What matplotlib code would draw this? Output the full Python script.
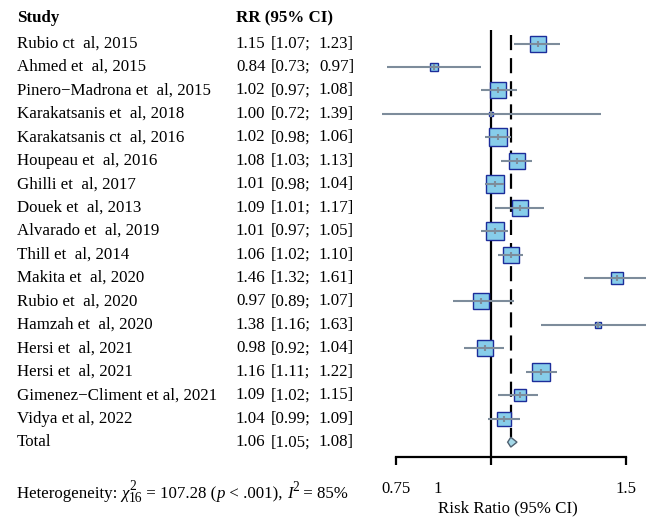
import numpy as np
import matplotlib
matplotlib.use("Agg")
import matplotlib.pyplot as plt
from matplotlib.transforms import ScaledTranslation

plt.rcParams["font.family"] = ["Liberation Serif", "DejaVu Serif"]
plt.rcParams["mathtext.fontset"] = "stix"

studies = [
    "Rubio ct  al, 2015", "Ahmed et  al, 2015", "Pinero\u2212Madrona et  al, 2015",
    "Karakatsanis et  al, 2018", "Karakatsanis ct  al, 2016", "Houpeau et  al, 2016",
    "Ghilli et  al, 2017", "Douek et  al, 2013", "Alvarado et  al, 2019",
    "Thill et  al, 2014", "Makita et  al, 2020", "Rubio et  al, 2020",
    "Hamzah et  al, 2020", "Hersi et  al, 2021", "Hersi et  al, 2021",
    "Gimenez\u2212Climent et al, 2021", "Vidya et al, 2022",
]
rr = [1.15, 0.84, 1.02, 1.00, 1.02, 1.08, 1.01, 1.09, 1.01, 1.06,
      1.46, 0.97, 1.38, 0.98, 1.16, 1.09, 1.04]
lower = [1.07, 0.73, 0.97, 0.72, 0.98, 1.03, 0.98, 1.01, 0.97, 1.02,
         1.32, 0.89, 1.16, 0.92, 1.11, 1.02, 0.99]
upper = [1.23, 0.97, 1.08, 1.39, 1.06, 1.13, 1.04, 1.17, 1.05, 1.10,
         1.61, 1.07, 1.63, 1.04, 1.22, 1.15, 1.09]
weight = [6.5, 3.3, 6.9, 1.6, 7.7, 6.1, 7.7, 6.9, 7.7, 6.9,
          4.9, 6.5, 2.8, 6.9, 7.3, 4.5, 5.7]
total_rr, total_lo, total_hi = 1.06, 1.05, 1.08
q_df, q_stat, q_p, i2 = "16", "107.28", "< .001", "85%"
x_ticks = [0.75, 1, 1.5]
x_tick_labels = ["0.75", "1", "1.5"]

W, H, DPI = 646, 517, 100
fig = plt.figure(figsize=(W / DPI, H / DPI), dpi=DPI)

# row coordinates: one unit per study row
row0_px, row_h = 43.5, 23.45
ylim = ((H - row0_px) / row_h, -row0_px / row_h)
n = len(studies)
rows = np.arange(n)
total_row = n

def px_row(y_px):
    return (y_px - row0_px) / row_h

# text panel spanning the whole figure
tax = fig.add_axes([0, 0, 1, 1])
tax.set_xlim(0, W)
tax.set_ylim(*ylim)
tax.axis("off")

fs = 12.2
x_name, x_est, x_lo, x_hi = 17, 236, 271, 354
tax.text(x_name, px_row(18), "Study", fontsize=fs, fontweight="bold", va="center")
tax.text(x_est, px_row(18), "RR (95% CI)", fontsize=fs, fontweight="bold", va="center")
for i, name in enumerate(studies):
    tax.text(x_name, i, name, fontsize=fs, va="center")
    tax.text(x_est, i, f"{rr[i]:.2f}", fontsize=fs, va="center")
    tax.text(x_lo, i, f"[{lower[i]:.2f};", fontsize=fs, va="center")
    tax.text(x_hi, i, f"{upper[i]:.2f}]", fontsize=fs, va="center", ha="right")
tax.text(x_name, total_row, "Total", fontsize=fs, va="center")
tax.text(x_est, total_row, f"{total_rr:.2f}", fontsize=fs, va="center")
tax.text(x_lo, total_row, f"[{total_lo:.2f};", fontsize=fs, va="center")
tax.text(x_hi, total_row, f"{total_hi:.2f}]", fontsize=fs, va="center", ha="right")

# heterogeneity line, set piece by piece so the scripts stay large
renderer = fig.canvas.get_renderer()
het_base = px_row(498)
pieces = [
    ("Heterogeneity: ", 0, 1.0, "normal", "advance"),
    ("\u03c7", 0, 1.0, "italic", "advance"),
    ("2", -7.5, 0.8, "normal", "stay"),      # superscript stacked over the subscript
    (q_df, 4.5, 0.8, "normal", "advance"),
    (f" = {q_stat} (", 0, 1.0, "normal", "advance"),
    ("p", 0, 1.0, "italic", "advance"),
    (f" {q_p}), ", 0, 1.0, "normal", "advance"),
    ("I", 0, 1.0, "italic", "advance"),
    ("2", -7.0, 0.8, "normal", "advance"),
    (f" = {i2}", 0, 1.0, "normal", "advance"),
]
x_cur = x_name
for txt, dy, scale, style, mode in pieces:
    t = tax.text(x_cur, het_base + dy / row_h, txt, fontsize=fs * scale,
                 fontstyle=style, va="baseline", ha="left")
    if mode == "advance":
        x_cur += t.get_window_extent(renderer).width

# forest panel on a log risk-ratio scale
left_px = 370
ax = fig.add_axes([left_px / W, 0, 1 - left_px / W, 1])
ax.set_xscale("log")
px_per_log = (626 - 396) / np.log(1.5 / 0.75)
ax.set_xlim(0.75 * np.exp(-(396 - left_px) / px_per_log),
            1.5 * np.exp((W - 626) / px_per_log))
ax.set_ylim(*ylim)
ax.patch.set_visible(False)

line_col = "#7d8c9b"
box_face = "#87cdea"
box_edge = "#1c2d9a"

axis_row = px_row(457)
ax.vlines(1, px_row(30), axis_row, color="black", lw=1.6, zorder=1)
ax.vlines(total_rr, px_row(35), total_row - 0.2, color="black",
          lw=1.6, linestyles=(0, (6.8, 3.6)), zorder=1)

for i in rows:
    side = weight[i] * 2.46 * 0.72
    ax.plot([rr[i]], [i], marker="s", ms=side, mfc=box_face, mec=box_edge,
            mew=1.0, zorder=2, clip_on=False)
    ax.hlines(i, lower[i], upper[i], color=line_col, lw=1.5, zorder=3)
    ax.plot([rr[i]], [i], marker="|", ms=5, mew=1.5, color=line_col, zorder=4)

# pooled estimate diamond
ax.fill([total_lo, total_rr, total_hi, total_rr],
        [total_row, total_row - 0.21, total_row, total_row + 0.21],
        facecolor="#a4d8e8", edgecolor="#4f6070", lw=1.0, zorder=3)

for s in ["top", "right", "left"]:
    ax.spines[s].set_visible(False)
ax.spines["bottom"].set_position(("data", axis_row))
ax.spines["bottom"].set_bounds(0.75, 1.5)
ax.spines["bottom"].set_linewidth(1.6)
ax.set_yticks([])
ax.set_xticks(x_ticks)
ax.set_xticklabels(x_tick_labels)
ax.xaxis.set_minor_locator(matplotlib.ticker.NullLocator())
ax.tick_params(axis="x", direction="out", length=6, width=1.6, pad=11,
               labelsize=12)
lbl = ax.get_xticklabels()[1]
lbl.set_transform(lbl.get_transform() + ScaledTranslation(-0.54, 0, fig.dpi_scale_trans))
ax.set_xlabel("Risk Ratio (95% CI)", fontsize=fs, labelpad=3)

fig.savefig("out.png", dpi=DPI)
